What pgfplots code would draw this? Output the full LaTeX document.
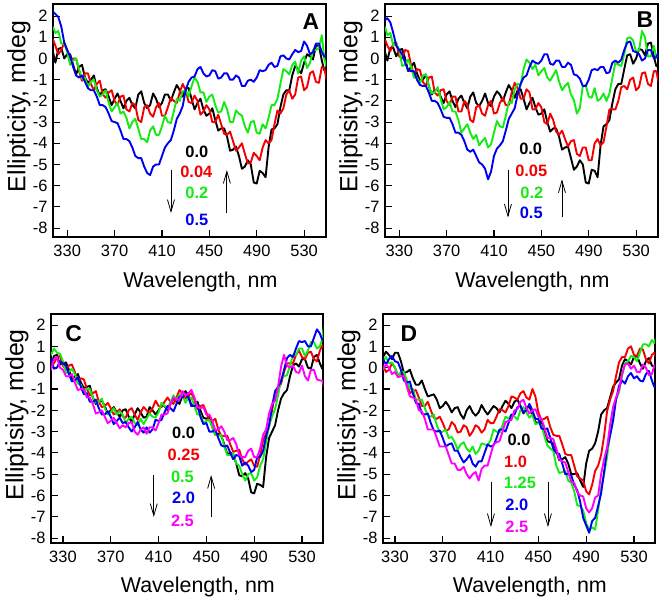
\documentclass[border=0pt]{standalone}
\usepackage{fontspec}
\setmainfont{Liberation Sans}
\usepackage{pgfplots}
\pgfplotsset{compat=1.18}
\usepackage{pgfplotstable}
\usetikzlibrary{arrows.meta}

\definecolor{cK}{RGB}{0,0,0}
\definecolor{cR}{RGB}{245,0,0}
\definecolor{cG}{RGB}{20,235,20}
\definecolor{cB}{RGB}{0,0,240}
\definecolor{cM}{RGB}{255,0,255}

\pgfplotstableread{
x     k      r      g      b
318   0.3    0.9    1.5    2.2
320   -0.2   0.6    1.2    2.1
322.5 0.45   0.2    1.3    1.95
325   0.5    0.4    0.7    1.5
327.5 0.0    0.75   0.7    0.75
330   0.2    0.4    0.3    0.4
332.5 0.2    -0.05  -0.3   0.1
335   -0.3   0.0    -0.1   -0.4
337.5 -0.75  0.0    0.0    -0.8
340   -0.4   -0.6   -0.5   -0.9
342.5 -0.3   -1.05  -0.95  -0.8
345   -0.9   -0.7   -0.9   -1.1
347.5 -1.15  -0.7   -1.35  -1.4
350   -1.0   -1.2   -1.1   -1.5
352.5 -0.8   -1.5   -1.0   -1.5
355   -1.4   -1.2   -1.5   -1.8
357.5 -1.75  -1.05  -1.8   -2.2
360   -1.5   -1.7   -1.7   -2.2
362.5 -1.45  -1.85  -1.5   -2.3
365   -1.8   -1.6   -2.1   -2.6
367.5 -2.2   -1.5   -2.5   -2.95
370   -1.9   -2.0   -2.3   -3.0
372.5 -1.65  -2.2   -2.1   -3.05
375   -2.0   -1.8   -2.6   -3.4
377.5 -2.35  -1.75  -2.5   -3.8
380   -2.0   -2.4   -2.8   -3.8
382.5 -1.85  -2.5   -3.3   -3.9
385   -2.2   -2.1   -3.0   -4.2
387.5 -2.35  -2.2   -2.85  -4.6
390   -1.7   -2.9   -3.3   -4.7
392.5 -1.55  -3.0   -3.8   -4.7
395   -2.1   -2.3   -3.8   -5.1
397.5 -2.35  -2.2   -3.95  -5.4
400   -2.2   -2.6   -3.4   -5.5
402.5 -1.65  -2.75  -3.2   -5.1
405   -1.9   -2.3   -3.6   -5.0
407.5 -2.3   -2.1   -3.6   -5.0
410   -2.1   -2.7   -3.2   -4.6
412.5 -1.7   -2.7   -2.7   -4.2
415   -1.7   -2.3   -3.0   -4.0
417.5 -2.0   -1.85  -3.05  -3.85
420   -1.6   -2.0   -2.5   -3.4
422.5 -1.25  -2.1   -1.9   -2.85
425   -1.5   -1.6   -2.0   -2.6
427.5 -1.8   -1.2   -1.55  -2.25
430   -1.4   -1.5   -1.5   -1.5
432.5 -1.4   -2.05  -1.8   -1.1
435   -1.9   -2.1   -1.3   -0.9
437.5 -2.4   -1.75  -0.9   -0.85
440   -2.1   -2.0   -1.1   -0.5
442.5 -1.9   -2.65  -1.6   -0.4
445   -2.4   -2.5   -1.6   -0.7
447.5 -2.7   -2.2   -2.05  -0.85
450   -2.6   -2.4   -1.8   -0.8
452.5 -2.35  -3.0   -1.7   -0.55
455   -2.9   -3.0   -2.2   -0.6
457.5 -3.4   -2.65  -2.55  -0.95
460   -3.3   -3.1   -2.5   -0.9
462.5 -3.3   -3.55  -2.05  -0.7
465   -3.7   -3.6   -2.4   -0.7
467.5 -4.35  -3.45  -3.0   -1.0
470   -4.3   -3.9   -3.0   -1.0
472.5 -4.15  -4.35  -2.45  -0.8
475   -4.6   -4.2   -2.6   -0.9
477.5 -5.2   -4.0   -2.7   -1.3
480   -5.1   -4.5   -3.2   -1.3
482.5 -4.8   -4.95  -3.5   -1.05
485   -5.0   -4.9   -3.0   -1.0
487.5 -5.85  -4.45  -2.95  -1.1
490   -5.9   -4.6   -3.5   -0.9
492.5 -5.3   -4.8   -3.55  -0.55
495   -5.4   -4.2   -3.1   -0.6
497.5 -5.6   -3.85  -3.3   -0.55
500   -4.2   -4.0   -2.8   -0.3
502.5 -3.35  -3.85  -2.2   -0.2
505   -3.3   -3.1   -2.2   -0.4
507.5 -3.1   -2.45  -1.9   -0.35
510   -2.3   -2.6   -1.2   0.1
512.5 -1.7   -2.35  -0.5   0.15
515   -1.5   -1.7   -0.6   0.0
517.5 -1.5   -1.5   -0.75  -0.05
520   -0.8   -1.9   -0.3   0.2
522.5 -0.35  -1.7   -0.15  0.4
525   -0.5   -0.9   -0.7   0.3
527.5 -0.7   -0.85  -0.1   0.35
530   -0.2   -1.5   0.1    0.8
532.5 0.2    -1.35  -0.45  0.6
535   0.1    -0.7   -0.2   0.2
537.5 -0.05  -0.6   0.4    0.3
540   0.6    -1.1   0.4    0.7
542.5 0.6    -1.15  0.5    0.7
545   -0.1   -0.4   1.1    0.3
547   -0.55  -0.45  0.0    0.1
549   -0.6   -1.0   -0.4   0.1
}\tA

\pgfplotstableread{
x     k      r      g      b
318   0.3    0.9    1.5    1.8
320   -0.1   0.6    1.1    1.9
322.5 0.5    0.35   1.2    1.7
325   0.5    0.7    0.6    1.2
327.5 0.1    0.75   0.7    0.6
330   0.4    0.1    0.4    0.4
332.5 0.45   0.0    -0.35  0.2
335   0.0    0.4    -0.3   -0.2
337.5 -0.6   0.35   -0.05  -0.55
340   -0.4   -0.3   -0.4   -0.6
342.5 -0.2   -0.8   -0.9   -0.6
345   -0.7   -0.5   -0.9   -1.0
347.5 -1.05  -0.55  -1.2   -1.25
350   -1.0   -1.1   -0.8   -1.3
352.5 -0.75  -1.3   -0.75  -1.3
355   -1.3   -0.9   -1.3   -1.6
357.5 -1.7   -0.85  -1.65  -2.0
360   -1.5   -1.6   -1.6   -2.0
362.5 -1.45  -1.75  -1.35  -2.1
365   -1.8   -1.5   -1.9   -2.4
367.5 -2.1   -1.45  -2.4   -2.75
370   -1.7   -2.0   -2.3   -2.8
372.5 -1.55  -2.2   -2.05  -2.8
375   -2.0   -1.8   -2.5   -3.1
377.5 -2.3   -1.8   -2.5   -3.5
380   -1.9   -2.5   -2.9   -3.5
382.5 -1.75  -2.5   -3.5   -3.6
385   -2.1   -2.0   -3.3   -3.9
387.5 -2.35  -2.15  -3.1   -4.3
390   -1.8   -2.9   -3.5   -4.4
392.5 -1.6   -3.0   -3.8   -4.3
395   -2.1   -2.3   -3.6   -4.6
397.5 -2.25  -2.2   -4.1   -4.9
400   -2.0   -2.6   -3.9   -5.0
402.5 -1.65  -2.7   -3.75  -5.2
405   -2.1   -2.2   -4.2   -5.7
407.5 -2.25  -2.0   -4.05  -5.35
410   -1.8   -2.6   -3.5   -4.6
412.5 -1.55  -2.55  -2.95  -4.25
415   -1.7   -2.1   -3.2   -4.1
417.5 -2.0   -1.85  -3.25  -3.9
420   -1.6   -2.2   -2.7   -3.4
422.5 -1.25  -2.2   -2.05  -2.85
425   -1.5   -1.6   -2.1   -2.6
427.5 -1.85  -1.15  -1.45  -2.35
430   -1.5   -1.4   -1.2   -1.7
432.5 -1.45  -1.9   -1.25  -1.2
435   -1.9   -1.9   -0.5   -0.9
437.5 -2.4   -1.45  -0.05  -0.8
440   -2.1   -1.6   -0.2   -0.4
442.5 -1.85  -2.4   -0.5   -0.1
445   -2.3   -2.4   -0.3   -0.2
447.5 -2.65  -2.1   -0.8   -0.25
450   -2.6   -2.3   -0.6   -0.1
452.5 -2.4   -3.0   -0.45  0.2
455   -3.0   -3.1   -0.9   0.2
457.5 -3.45  -2.6   -1.05  -0.25
460   -3.3   -2.9   -0.8   -0.3
462.5 -3.3   -3.45  -0.55  -0.1
465   -3.7   -3.6   -1.1   -0.1
467.5 -4.3   -3.4   -1.5   -0.4
470   -4.2   -3.8   -1.3   -0.4
472.5 -4.15  -4.15  -1.15  -0.2
475   -4.7   -3.9   -1.7   -0.3
477.5 -5.25  -3.85  -1.95  -0.75
480   -5.1   -4.5   -2.6   -0.8
482.5 -4.8   -4.6   -2.35  -0.95
485   -5.0   -4.2   -1.3   -1.3
487.5 -5.85  -4.2   -1.25  -1.3
490   -5.9   -4.8   -1.8   -1.0
492.5 -5.25  -4.8   -1.85  -0.55
495   -5.3   -4.0   -1.4   -0.5
497.5 -5.6   -3.8   -2.0   -0.55
500   -4.1   -4.1   -1.9   -0.4
502.5 -3.2   -3.95  -1.65  -0.4
505   -3.1   -3.2   -2.0   -0.7
507.5 -2.9   -2.4   -1.65  -0.65
510   -2.1   -2.4   -0.9   -0.2
512.5 -1.45  -2.4   -0.2   -0.1
515   -1.2   -2.0   -0.3   -0.2
517.5 -1.2   -1.35  -0.35  -0.05
520   -0.5   -1.3   0.2    0.4
522.5 0.15   -1.45  0.95   0.75
525   0.2    -1.0   1.0    0.8
527.5 -0.25  -0.9   0.85   0.35
530   0.0    -1.5   0.3    0.3
532.5 0.45   -1.35  0.4    0.2
535   0.4    -0.7   1.3    -0.1
537.5 0.15   -0.65  1.0    0.0
540   0.7    -1.2   0.1    0.4
542.5 0.75   -1.3   0.1    0.4
545   0.1    -0.6   0.6    0.0
547   -0.35  -0.6   0.05   0.05
549   -0.4   -1.1   0.2    0.3
}\tB

\pgfplotstableread{
x     k      r      g      b      m
318   0.4    -0.3   0.8    0.2    0.1
320   0.1    0.3    0.6    0.4    -0.1
322.5 0.55   0.2    0.9    -0.05  0.4
325   0.6    0.5    0.7    0.0    0.5
327.5 0.15   0.55   0.65   0.3    0.0
330   0.2    0.1    0.3    0.2    -0.1
332.5 0.25   -0.1   -0.25  0.1    -0.4
335   -0.1   0.1    -0.2   -0.3   -0.4
337.5 -0.55  0.15   -0.05  -0.65  -0.3
340   -0.4   -0.2   -0.3   -0.6   -0.7
342.5 -0.3   -0.65  -0.75  -0.45  -1.05
345   -0.7   -0.5   -0.8   -0.9   -1.0
347.5 -0.95  -0.55  -1.15  -1.25  -1.0
350   -0.9   -1.0   -1.0   -1.2   -1.4
352.5 -0.85  -1.3   -1.0   -1.6   -1.4
355   -1.4   -1.2   -1.4   -1.6   -1.7
357.5 -1.7   -1.1   -1.65  -1.5   -2.15
360   -1.6   -1.6   -1.6   -1.9   -2.1
362.5 -1.55  -1.85  -1.45  -2.2   -2.0
365   -1.8   -1.8   -1.9   -2.2   -2.3
367.5 -2.15  -1.65  -2.2   -2.05  -2.6
370   -2.0   -1.9   -2.1   -2.3   -2.5
372.5 -1.85  -2.2   -1.9   -2.65  -2.35
375   -2.1   -2.1   -2.2   -2.5   -2.6
377.5 -2.3   -1.95  -2.05  -2.35  -2.85
380   -2.0   -2.3   -2.2   -2.6   -2.7
382.5 -1.95  -2.35  -2.6   -2.55  -2.8
385   -2.3   -2.0   -2.4   -2.8   -2.6
387.5 -2.55  -1.9   -2.3   -3.0   -2.55
390   -2.2   -2.2   -2.6   -2.8   -3.0
392.5 -1.9   -2.45  -2.7   -2.55  -3.15
395   -2.1   -2.1   -2.4   -2.9   -2.9
397.5 -2.35  -1.85  -2.65  -3.05  -2.8
400   -2.3   -2.0   -2.4   -2.8   -3.1
402.5 -1.85  -2.15  -2.15  -3.05  -2.8
405   -2.0   -1.9   -2.3   -2.9   -2.8
407.5 -2.2   -1.55  -2.35  -2.45  -2.95
410   -2.0   -1.8   -2.1   -2.5   -2.6
412.5 -1.75  -1.85  -1.65  -2.45  -2.2
415   -1.8   -1.6   -1.8   -2.1   -2.2
417.5 -2.0   -1.4   -1.9   -1.8   -2.15
420   -1.7   -1.6   -1.6   -1.9   -1.7
422.5 -1.45  -1.7   -1.3   -2.05  -1.4
425   -1.6   -1.4   -1.5   -1.7   -1.5
427.5 -1.7   -1.05  -1.25  -1.35  -1.5
430   -1.3   -1.2   -1.3   -1.4   -1.1
432.5 -1.1   -1.45  -1.65  -1.25  -1.3
435   -1.3   -1.3   -1.4   -1.4   -1.2
437.5 -1.8   -1.2   -1.4   -1.8   -1.05
440   -1.7   -1.5   -1.8   -1.8   -1.4
442.5 -1.6   -1.95  -2.2   -1.75  -1.85
445   -2.0   -1.8   -2.2   -2.3   -1.9
447.5 -2.35  -1.75  -2.6   -2.65  -1.85
450   -2.4   -2.1   -2.5   -2.6   -2.2
452.5 -2.3   -2.5   -2.45  -3.0   -2.2
455   -2.8   -2.5   -2.8   -3.0   -2.5
457.5 -3.15  -2.4   -3.15  -2.9   -2.95
460   -3.1   -2.9   -3.2   -3.3   -2.9
462.5 -3.2   -3.2   -3.15  -3.65  -2.75
465   -3.6   -3.2   -3.7   -3.7   -3.0
467.5 -4.05  -3.2   -4.1   -3.65  -3.4
470   -4.0   -3.6   -4.1   -4.0   -3.4
472.5 -4.05  -3.95  -4.05  -4.3   -3.3
475   -4.5   -3.9   -4.5   -4.1   -3.6
477.5 -5.05  -3.85  -4.6   -4.15  -4.1
480   -5.1   -4.3   -5.0   -4.6   -4.2
482.5 -4.95  -4.55  -5.3   -4.45  -4.2
485   -5.2   -4.4   -5.0   -4.6   -3.9
487.5 -5.85  -4.3   -4.95  -4.9   -3.8
490   -5.9   -4.6   -5.3   -4.8   -4.2
492.5 -5.45  -4.65  -5.15  -4.2   -4.2
495   -5.5   -4.1   -4.6   -4.2   -3.8
497.5 -5.6   -3.4   -4.3   -3.9   -3.15
500   -4.2   -3.1   -3.5   -3.2   -2.9
502.5 -3.3   -2.75  -2.7   -2.7   -2.15
505   -3.0   -2.0   -2.3   -1.8   -1.7
507.5 -2.7   -1.2   -1.95  -1.1   -1.55
510   -2.0   -1.0   -1.3   -0.9   -0.9
512.5 -1.45  -0.75  -0.55  -0.65  0.05
515   -1.2   -0.2   -0.4   -0.1   0.6
517.5 -1.05  0.2    -0.35  0.45   0.1
520   -0.4   0.2    0.1    0.6    0.0
522.5 0.1    0.2    0.6    0.5    0.1
525   0.2    0.6    0.6    0.9    -0.2
527.5 0.05   0.8    0.9    1.25   -0.25
530   0.4    0.5    0.9    1.2    0.1
532.5 0.4    0.4    0.55   1.25   -0.4
535   0.0    0.7    0.8    1.0    -0.6
537.5 -0.05  0.75   1.2    1.0    -0.1
540   0.5    0.4    1.2    1.4    -0.1
542.5 0.6    0.3    0.9    1.8    -0.55
545   0.2    0.8    1.0    1.6    -0.6
547   -0.05  1.05   1.35   1.3    -0.6
549   0.0    0.9    2.2    1.4    -1.0
}\tC

\pgfplotstableread{
x     k      r      g      b      m
318   0.3    0.0    0.4    0.1    0.2
320   0.5    0.1    0.3    0.4    -0.1
322.5 0.75   -0.2   0.5    0.15   0.15
325   0.6    -0.1   0.2    0.4    0.0
327.5 0.4    0.2    0.25   0.55   -0.3
330   0.7    0.0    0.0    0.3    -0.2
332.5 0.7    -0.35  -0.4   0.25   -0.45
335   0.3    -0.3   -0.2   -0.1   -0.4
337.5 -0.25  -0.3   -0.2   -0.6   -0.4
340   -0.2   -0.7   -0.6   -0.7   -0.9
342.5 -0.1   -1.2   -1.0   -0.65  -1.35
345   -0.5   -1.1   -1.0   -1.2   -1.4
347.5 -0.8   -1.05  -1.5   -1.65  -1.5
350   -0.8   -1.4   -1.5   -1.7   -2.0
352.5 -0.6   -1.8   -1.5   -2.15  -2.05
355   -1.0   -1.8   -1.9   -2.2   -2.4
357.5 -1.35  -1.6   -2.25  -2.15  -2.9
360   -1.3   -2.0   -2.3   -2.6   -2.9
362.5 -1.25  -2.35  -2.2   -2.95  -2.9
365   -1.5   -2.4   -2.7   -3.0   -3.3
367.5 -1.9   -2.3   -3.05  -2.95  -3.7
370   -1.8   -2.6   -3.0   -3.3   -3.7
372.5 -1.6   -2.95  -2.9   -3.7   -3.7
375   -1.8   -2.9   -3.3   -3.6   -4.1
377.5 -2.1   -2.55  -3.25  -3.55  -4.5
380   -1.9   -2.7   -3.5   -3.9   -4.5
382.5 -1.85  -3.05  -3.85  -3.9   -4.8
385   -2.2   -3.0   -3.6   -4.2   -4.8
387.5 -2.4   -2.7   -3.5   -4.45  -4.65
390   -2.0   -2.8   -3.8   -4.3   -5.0
392.5 -1.8   -3.2   -3.95  -4.1   -5.2
395   -2.1   -3.0   -3.7   -4.5   -5.0
397.5 -2.25  -2.7   -4.05  -4.65  -4.9
400   -2.1   -2.8   -3.9   -4.4   -5.3
402.5 -1.75  -3.05  -3.55  -4.4   -4.75
405   -2.0   -2.9   -3.6   -4.0   -4.6
407.5 -2.2   -2.45  -3.65  -3.6   -4.6
410   -2.0   -2.6   -3.4   -3.7   -4.1
412.5 -1.8   -2.6   -2.9   -3.65  -3.6
415   -1.9   -2.3   -3.0   -3.3   -3.5
417.5 -2.1   -1.95  -3.05  -2.9   -3.45
420   -1.8   -2.0   -2.7   -2.9   -3.0
422.5 -1.55  -2.1   -2.3   -3.0   -2.55
425   -1.7   -1.8   -2.4   -2.6   -2.5
427.5 -1.9   -1.35  -2.2   -2.2   -2.45
430   -1.6   -1.4   -2.3   -2.2   -2.0
432.5 -1.5   -1.5   -2.45  -1.85  -1.95
435   -1.8   -1.2   -2.0   -1.8   -1.6
437.5 -2.15  -1.1   -1.85  -2.1   -1.5
440   -1.9   -1.4   -2.1   -2.0   -1.9
442.5 -1.8   -1.5   -2.35  -1.7   -2.15
445   -2.2   -1.0   -2.2   -2.0   -2.0
447.5 -2.55  -1.35  -2.65  -2.4   -1.95
450   -2.6   -2.1   -2.6   -2.4   -2.3
452.5 -2.5   -2.45  -2.7   -2.85  -2.4
455   -3.0   -2.4   -3.2   -2.9   -2.8
457.5 -3.45  -2.3   -3.65  -2.85  -3.3
460   -3.5   -2.8   -3.8   -3.3   -3.3
462.5 -3.55  -3.15  -3.9   -3.8   -3.35
465   -3.9   -3.2   -4.6   -4.0   -3.8
467.5 -4.35  -3.2   -4.95  -4.05  -4.3
470   -4.3   -3.6   -4.9   -4.5   -4.4
472.5 -4.2   -4.05  -4.85  -5.0   -4.45
475   -4.5   -4.1   -5.3   -5.0   -4.9
477.5 -5.0   -4.1   -5.4   -5.05  -5.35
480   -5.0   -4.6   -5.8   -5.5   -5.4
482.5 -4.95  -5.1   -6.45  -5.75  -5.85
485   -5.3   -5.2   -6.5   -6.3   -6.0
487.5 -5.6   -5.3   -6.7   -7.05  -6.05
490   -4.5   -5.8   -7.3   -7.4   -6.6
492.5 -3.9   -5.95  -7.6   -7.75  -6.8
495   -3.8   -5.5   -7.5   -7.2   -6.6
497.5 -3.55  -4.85  -7.6   -7.05  -6.1
500   -3.0   -4.6   -6.7   -6.5   -6.0
502.5 -2.2   -4.1   -5.65  -5.9   -5.0
505   -2.0   -3.2   -5.0   -4.9   -4.3
507.5 -1.9   -2.05  -4.2   -3.8   -3.75
510   -1.4   -1.5   -3.1   -3.2   -2.7
512.5 -0.9   -1.1   -2.0   -2.5   -1.85
515   -0.7   -0.4   -1.5   -1.5   -1.4
517.5 -0.55  0.25   -1.15  -0.85  -1.05
520   0.1    0.5    -0.4   -0.6   -0.3
522.5 0.4    0.5    0.2    -0.75  0.15
525   0.3    0.9    0.3    -0.4   0.2
527.5 0.15   1.0    0.55   -0.25  -0.05
530   0.5    0.6    0.5    -0.5   0.1
532.5 0.55   0.55   0.3    -0.4   -0.2
535   0.2    0.9    0.7    -0.6   -0.2
537.5 -0.05  0.85   1.1    -0.65  0.15
540   0.3    0.4    1.1    -0.3   0.0
542.5 0.45   0.2    1.0    -0.15  -0.35
545   0.1    0.6    1.3    -0.6   -0.3
547   0.05   0.7    1.15   -0.9   0.1
549   0.3    0.4    1.5    -0.8   0.1
}\tD

\pgfplotsset{
  panel/.style={
    scale only axis,
    tick pos=left, tick align=inside, major tick length=7bp,
    xtick={330,370,410,450,490,530},
    xticklabels={330,370,410,450,490,530},
    ytick={-8,-7,-6,-5,-4,-3,-2,-1,0,1,2},
    yticklabels={-8,-7,-6,-5,-4,-3,-2,-1,0,1,2},
    every tick/.style={black, line width=1.1bp},
    axis line style={line width=1.3bp},
    tick label style={font=\fontsize{16.5}{18}\selectfont},
    yticklabel style={xshift=-2bp},
    xticklabel style={yshift=-5bp},
    xlabel={Wavelength, nm},
    xlabel style={font=\fontsize{21.5}{24}\selectfont, at={(axis description cs:0.54,-0.193)}, anchor=center},
    ylabel style={font=\fontsize{25}{28}\selectfont, at={(axis description cs:-0.125,0.56)}, anchor=center},
    every axis plot/.append style={line width=1.9bp, line join=round},
  },
  top/.style={panel, width=273bp, height=233bp, xmin=318, xmax=548.5, ymin=-8.42, ymax=2.57},
  bot/.style={panel, width=272bp, height=229bp, xmin=320, xmax=547.6, ymin=-8.23, ymax=2.52},
}
\tikzset{
  lab/.style={font=\bfseries\fontsize{16.5}{18}\selectfont},
  let/.style={font=\bfseries\fontsize{23}{26}\selectfont},
  arr/.style={line width=0.8bp, -{Straight Barb[length=12bp,width=7bp]}},
}

\begin{document}
\begin{tikzpicture}
\path[use as bounding box] (0,0) rectangle (664bp,609bp);

% Panel A
\begin{axis}[top, at={(53bp,372bp)}, anchor=south west, ylabel={Ellipticity, mdeg}]
\addplot[cK] table[x=x,y=k]{\tA};
\addplot[cR] table[x=x,y=r]{\tA};
\addplot[cG] table[x=x,y=g]{\tA};
\addplot[cB] table[x=x,y=b]{\tA};
\node[lab, text=cK] at (axis cs:439.5,-4.41) {0.0};
\node[lab, text=cR] at (axis cs:439,-5.35) {0.04};
\node[lab, text=cG] at (axis cs:439.5,-6.34) {0.2};
\node[lab, text=cB] at (axis cs:439.5,-7.61) {0.5};
\draw[arr] (axis cs:417.6,-5.26) -- (axis cs:417.6,-7.29);
\draw[arr] (axis cs:464.8,-7.29) -- (axis cs:464.8,-5.26);
\node[let] at (axis cs:535.7,1.72) {A};
\end{axis}

% Panel B
\begin{axis}[top, at={(385bp,372bp)}, anchor=south west, ylabel={Elliptisity, mdeg}]
\addplot[cK] table[x=x,y=k]{\tB};
\addplot[cR] table[x=x,y=r]{\tB};
\addplot[cG] table[x=x,y=g]{\tB};
\addplot[cB] table[x=x,y=b]{\tB};
\node[lab, text=cK] at (axis cs:441,-4.24) {0.0};
\node[lab, text=cR] at (axis cs:441.5,-5.3) {0.05};
\node[lab, text=cG] at (axis cs:442,-6.34) {0.2};
\node[lab, text=cB] at (axis cs:441.5,-7.27) {0.5};
\draw[arr] (axis cs:421.8,-5.26) -- (axis cs:421.8,-7.5);
\draw[arr] (axis cs:467.4,-7.5) -- (axis cs:467.4,-5.7);
\node[let] at (axis cs:537.4,1.82) {B};
\end{axis}

% Panel C
\begin{axis}[bot, at={(51bp,66bp)}, anchor=south west, ylabel={Elliptisity, mdeg}]
\addplot[cK] table[x=x,y=k]{\tC};
\addplot[cR] table[x=x,y=r]{\tC};
\addplot[cG] table[x=x,y=g]{\tC};
\addplot[cB] table[x=x,y=b]{\tC};
\addplot[cM] table[x=x,y=m]{\tC};
\node[lab, text=cK] at (axis cs:431,-3.07) {0.0};
\node[lab, text=cR] at (axis cs:431,-4.1) {0.25};
\node[lab, text=cG] at (axis cs:430,-5.14) {0.5};
\node[lab, text=cB] at (axis cs:431,-6.12) {2.0};
\node[lab, text=cM] at (axis cs:430,-7.2) {2.5};
\draw[arr] (axis cs:406,-5.04) -- (axis cs:406,-7.01);
\draw[arr] (axis cs:454,-7.01) -- (axis cs:454,-5.04);
\node[let] at (axis cs:339,1.62) {C};
\end{axis}

% Panel D
\begin{axis}[bot, at={(383bp,66bp)}, anchor=south west, ylabel={Elliptisity, mdeg}]
\addplot[cK] table[x=x,y=k]{\tD};
\addplot[cR] table[x=x,y=r]{\tD};
\addplot[cG] table[x=x,y=g]{\tD};
\addplot[cB] table[x=x,y=b]{\tD};
\addplot[cM] table[x=x,y=m]{\tD};
\node[lab, text=cK] at (axis cs:433.8,-3.4) {0.0};
\node[lab, text=cR] at (axis cs:431,-4.43) {1.0};
\node[lab, text=cG] at (axis cs:434.6,-5.42) {1.25};
\node[lab, text=cB] at (axis cs:432,-6.45) {2.0};
\node[lab, text=cM] at (axis cs:432,-7.48) {2.5};
\draw[arr] (axis cs:410.3,-5.37) -- (axis cs:410.3,-7.48);
\draw[arr] (axis cs:458,-5.37) -- (axis cs:458,-7.48);
\node[let] at (axis cs:341.7,1.62) {D};
\end{axis}
\end{tikzpicture}
\end{document}
